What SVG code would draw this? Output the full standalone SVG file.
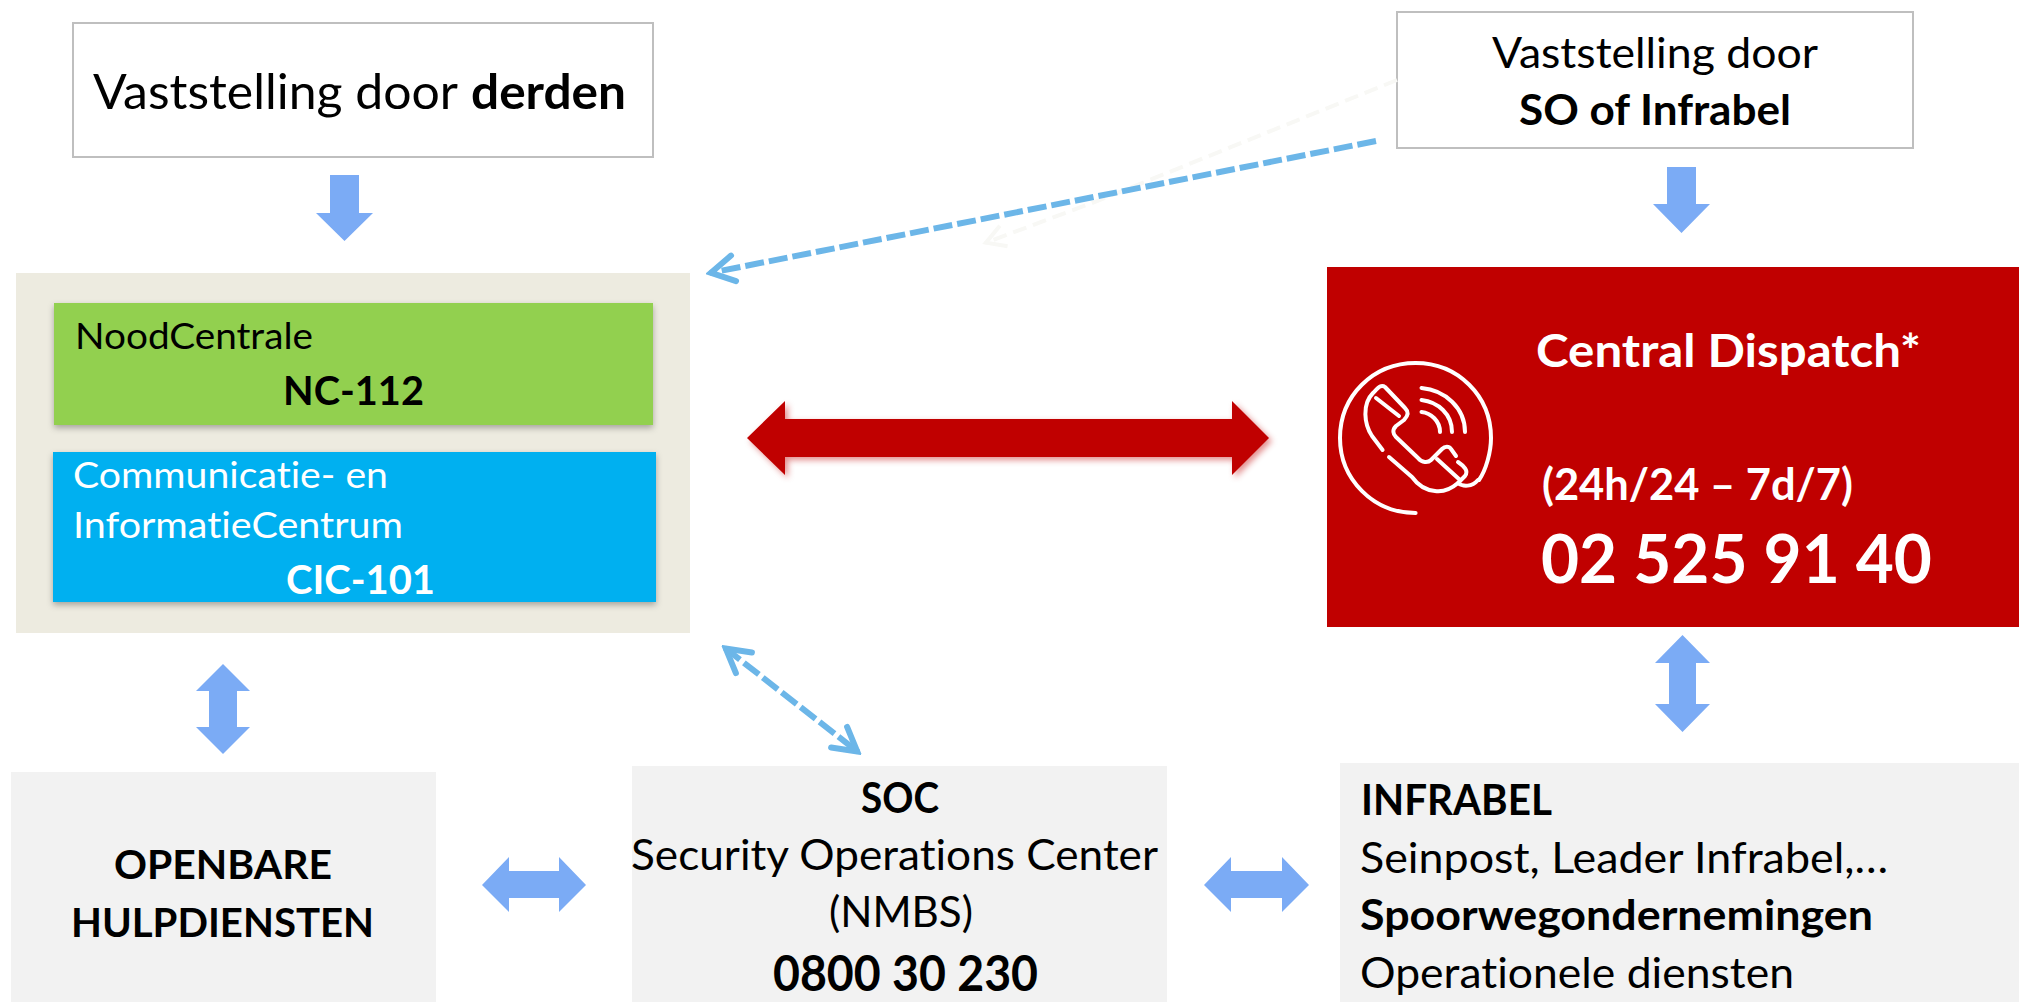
<svg xmlns="http://www.w3.org/2000/svg" width="2019" height="1002" viewBox="0 0 2019 1002">
<defs>
<style>
text{font-family:Lato,Carlito,"Open Sans",sans-serif;fill:#000;font-variant-ligatures:none}
.b{font-weight:700}
.w{fill:#fff}
.block{fill:#7BABF5}
.dash{fill:none;stroke:#6CB6E8;stroke-width:6;stroke-dasharray:19 5}
.faint{fill:none;stroke:#F8F8F5;stroke-width:4;stroke-dasharray:14 7}
.icon{fill:none;stroke:#fff;stroke-width:4;stroke-linecap:round;stroke-linejoin:round}
.sb{fill:#fff;stroke:#BFBFBF;stroke-width:2}
.grey{fill:#F2F2F2}
</style>
<filter id="sh" x="-5%" y="-10%" width="110%" height="125%"><feDropShadow dx="0" dy="3" stdDeviation="3" flood-color="#000" flood-opacity=".3"/></filter>
<filter id="shr" x="-5%" y="-20%" width="110%" height="140%"><feDropShadow dx="3" dy="3" stdDeviation="3" flood-color="#C00000" flood-opacity=".45"/></filter>
<marker id="ah" markerUnits="userSpaceOnUse" viewBox="-30 -20 34 40" refX="0" refY="0" markerWidth="34" markerHeight="40" orient="auto-start-reverse"><path d="M-24 -13L-1 0L-24 13" fill="none" stroke="#6CB6E8" stroke-width="6" stroke-linecap="round"/></marker>
<marker id="af" markerUnits="userSpaceOnUse" viewBox="-30 -20 34 40" refX="0" refY="0" markerWidth="34" markerHeight="40" orient="auto"><path d="M-20 -11L-1 0L-20 11" fill="none" stroke="#F8F8F5" stroke-width="4"/></marker>
</defs>
<rect width="2019" height="1002" fill="#fff"/>
<g id="n-derden"><rect class="sb" x="73" y="23" width="580" height="134"/>
<text x="93" y="108.500" font-size="48" textLength="365" lengthAdjust="spacingAndGlyphs">Vaststelling door</text>
<text class="b" x="471" y="108.500" font-size="48" textLength="155" lengthAdjust="spacingAndGlyphs">derden</text></g>
<g id="n-so"><rect class="sb" x="1397" y="12" width="516" height="136"/>
<text x="1492" y="68" font-size="42" textLength="326" lengthAdjust="spacingAndGlyphs">Vaststelling door</text>
<text class="b" x="1519" y="125" font-size="42" textLength="272" lengthAdjust="spacingAndGlyphs">SO of Infrabel</text></g>
<g id="n-centrale"><rect x="16" y="273" width="674" height="360" fill="#EDEBE0"/>
<g id="n-nc"><rect x="54" y="303" width="599" height="122" fill="#92D050" filter="url(#sh)"/>
<text x="75" y="349" font-size="37" textLength="238" lengthAdjust="spacingAndGlyphs">NoodCentrale</text>
<text class="b" x="283" y="405" font-size="41" textLength="141" lengthAdjust="spacingAndGlyphs">NC-112</text></g>
<g id="n-cic"><rect x="53" y="452" width="603" height="150" fill="#00B0F0" filter="url(#sh)"/>
<text class="w" x="73" y="488" font-size="37" textLength="315" lengthAdjust="spacingAndGlyphs">Communicatie- en</text>
<text class="w" x="73" y="538" font-size="37" textLength="330" lengthAdjust="spacingAndGlyphs">InformatieCentrum</text>
<text class="w b" x="286" y="594" font-size="41" textLength="149" lengthAdjust="spacingAndGlyphs">CIC-101</text></g></g>
<g id="n-dispatch"><rect x="1327" y="267" width="692" height="360" fill="#C00000"/>
<g class="icon">
<path d="M1415.600 513C1373 513 1340 479 1340 438C1340 396 1373 363 1415.600 363C1458 363 1491 396 1491 438C1491 452 1486 470 1479 480"/>
<path d="M1382.600 450L1372 436C1364 424 1362 404 1373 393C1378 388 1381 384 1385 387L1405 408C1409 412 1408 416 1404 420L1396 426C1392 430 1393 434 1396 437L1418 458C1422 463 1428 463 1431 460L1442 449C1445 446 1449 446 1451 449L1456 456"/>
<path d="M1376 398L1399 416"/>
<path d="M1437 459L1460 480"/>
<path d="M1458 462C1464 466 1469 471 1465 476L1458 483C1450 490 1443 492 1435 491C1425 490 1417 484 1412 477L1389 457"/>
<path d="M1458 483C1463 487 1472 487 1478 480"/>
<path d="M1421.500 388C1445 390 1465 408 1465 432"/>
<path d="M1421.500 400C1438 402 1452 414 1452 432"/>
<path d="M1421.500 412C1431 413 1440 421 1440 432"/>
</g>
<text class="w b" x="1536" y="367" font-size="46" textLength="385" lengthAdjust="spacingAndGlyphs">Central Dispatch*</text>
<text class="w b" x="1542" y="500" font-size="43" textLength="311" lengthAdjust="spacingAndGlyphs">(24h/24 – 7d/7)</text>
<text class="w b" x="1541" y="583" font-size="67" textLength="391" lengthAdjust="spacingAndGlyphs">02 525 91 40</text></g>
<g id="n-hulp"><rect class="grey" x="11" y="772" width="425" height="230"/>
<text class="b" x="114" y="879" font-size="41" textLength="218" lengthAdjust="spacingAndGlyphs">OPENBARE</text>
<text class="b" x="71" y="937" font-size="41" textLength="303" lengthAdjust="spacingAndGlyphs">HULPDIENSTEN</text></g>
<g id="n-soc"><rect class="grey" x="632" y="766" width="535" height="236"/>
<text class="b" x="861" y="813" font-size="42" textLength="78" lengthAdjust="spacingAndGlyphs">SOC</text>
<text x="631" y="870" font-size="43" textLength="527" lengthAdjust="spacingAndGlyphs">Security Operations Center</text>
<text x="829" y="927" font-size="43" textLength="144" lengthAdjust="spacingAndGlyphs">(NMBS)</text>
<text class="b" x="773" y="991" font-size="49" textLength="265" lengthAdjust="spacingAndGlyphs">0800 30 230</text></g>
<g id="n-infrabel"><rect class="grey" x="1340" y="763" width="679" height="239"/>
<text class="b" x="1361" y="815" font-size="42" textLength="191" lengthAdjust="spacingAndGlyphs">INFRABEL</text>
<text x="1360" y="873" font-size="42" textLength="528" lengthAdjust="spacingAndGlyphs">Seinpost, Leader Infrabel,…</text>
<text class="b" x="1360" y="930" font-size="42" textLength="513" lengthAdjust="spacingAndGlyphs">Spoorwegondernemingen</text>
<text x="1360" y="988" font-size="42" textLength="434" lengthAdjust="spacingAndGlyphs">Operationele diensten</text></g>
<g id="connectors">
<polygon class="block" points="330,175 359,175 359,213 373,213 344.500,241 316,213 330,213"/>
<polygon class="block" points="1667,167 1696,167 1696,204 1710,204 1681.500,233 1653,204 1667,204"/>
<polygon class="block" points="223,664 250,691 237,691 237,727 250,727 223,754 196,727 209,727 209,691 196,691"/>
<polygon class="block" points="1682.500,635 1710,663 1696,663 1696,704 1710,704 1682.500,732 1655,704 1669,704 1669,663 1655,663"/>
<polygon class="block" points="482,885 509,857 509,871 559,871 559,857 586,885 559,912 559,898 509,898 509,912"/>
<polygon class="block" points="1204,885 1231,857 1231,871 1282,871 1282,857 1309,885 1282,912 1282,898 1231,898 1231,912"/>
<polygon points="747,438 785,401 785,419 1232,419 1232,401 1269,438 1232,475 1232,457 785,457 785,475" fill="#C00000" filter="url(#shr)"/>
<path class="faint" d="M1397 80L1100 200L985 243" marker-end="url(#af)"/>
<path class="dash" d="M1376 141L710 273" marker-end="url(#ah)"/>
<path class="dash" d="M725 648L858 752" marker-start="url(#ah)" marker-end="url(#ah)"/>
</g>
</svg>
